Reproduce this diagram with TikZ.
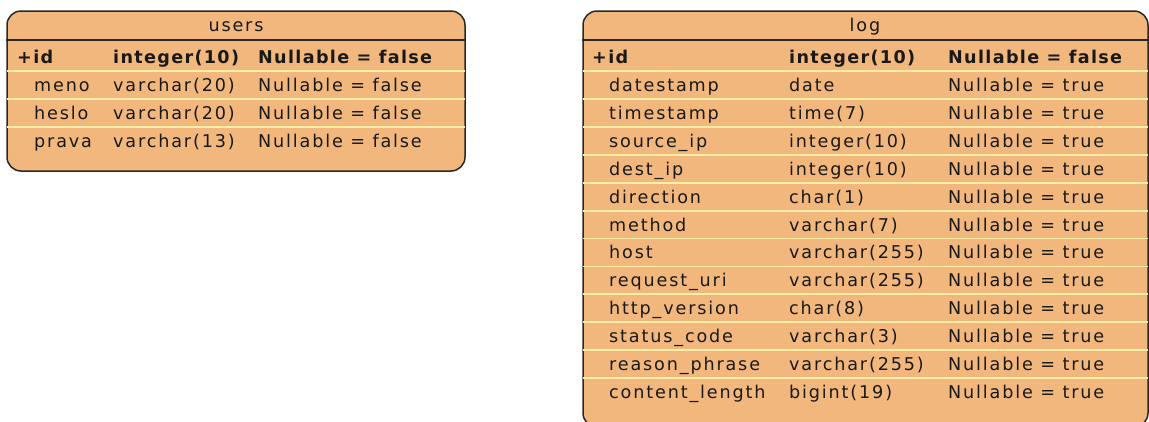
\documentclass[tikz,border=0pt]{standalone}
\usepackage{fontspec}
\setmainfont{DejaVu Sans}[LetterSpace=10.5,BoldFeatures={LetterSpace=7.5}]
\definecolor{tblfill}{RGB}{242,183,125}
\definecolor{sepcol}{RGB}{255,238,168}
\definecolor{edgecol}{RGB}{40,40,40}
\begin{document}
\begin{tikzpicture}[x=1pt,y=-1pt,
  tbl/.style={draw=edgecol,line width=1.5pt,fill=tblfill,rounded corners=14pt,inner sep=0pt,rectangle},
  cell/.style={anchor=base west,inner sep=0pt,font=\fontsize{17.6}{20}\selectfont,text=black!90},
  hdr/.style={cell,font=\fontsize{17.6}{20}\selectfont\bfseries},
  ttl/.style={cell,anchor=base},
  hline/.style={draw=edgecol,line width=1.3pt},
  sepline/.style={draw=sepcol,line width=1.8pt}]
\useasboundingbox (0,0) rectangle (1149,421);
\clip (0,0) rectangle (1149,421);
% users table
\node[tbl,minimum width=458pt,minimum height=160pt] (users) at (236,91) {};
\node[ttl] (utitle) at (236,31) {users};
\draw[hline] (users.west |- 0,40) -- (users.east |- 0,40);
\foreach \k in {0,1,2}{
  \draw[sepline] ([xshift=1pt]users.west |- 0,{71+28*\k}) -- ([xshift=-1pt]users.east |- 0,{71+28*\k});
}
\node[hdr] (uid) at (17,63.5) {+id};
\node[hdr] (uidt) at (113,63.5) {integer(10)};
\node[hdr] (uidc) at (258,63.5) {Nullable = false};
\foreach \n/\t/\c [count=\i] in {meno/varchar(20)/Nullable = false,heslo/varchar(20)/Nullable = false,prava/varchar(13)/Nullable = false}{
  \node[cell] (un\i) at (34,{63.5+28*\i}) {\n};
  \node[cell] (ut\i) at (113,{63.5+28*\i}) {\t};
  \node[cell] (uc\i) at (258,{63.5+28*\i}) {\c};
}
% log table
\node[tbl,minimum width=565pt,minimum height=416pt] (log) at (865.5,219) {};
\node[ttl] (ltitle) at (865,31) {log};
\draw[hline] (log.west |- 0,40) -- (log.east |- 0,40);
\foreach \k in {0,...,11}{
  \draw[sepline] ([xshift=1pt]log.west |- 0,{71+27.92*\k}) -- ([xshift=-1pt]log.east |- 0,{71+27.92*\k});
}
\node[hdr] (lid) at (592,63.5) {+id};
\node[hdr] (lidt) at (789,63.5) {integer(10)};
\node[hdr] (lidc) at (948,63.5) {Nullable = false};
\foreach \n/\t [count=\i] in {datestamp/date,timestamp/time(7),source\_ip/integer(10),dest\_ip/integer(10),direction/char(1),method/varchar(7),host/varchar(255),request\_uri/varchar(255),http\_version/char(8),status\_code/varchar(3),reason\_phrase/varchar(255),content\_length/bigint(19)}{
  \node[cell] (ln\i) at (609,{63.5+27.92*\i}) {\n};
  \node[cell] (lt\i) at (789,{63.5+27.92*\i}) {\t};
  \node[cell] (lc\i) at (948,{63.5+27.92*\i}) {Nullable = true};
}
\end{tikzpicture}
\end{document}
